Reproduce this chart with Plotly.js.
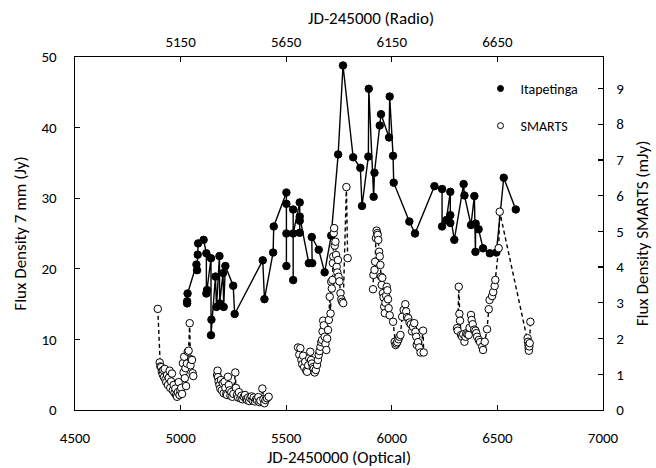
<!DOCTYPE html>
<html>
<head>
<meta charset="utf-8">
<script src="https://cdn.plot.ly/plotly-3.0.1.min.js"></script>
<style>html,body{margin:0;padding:0;background:#fff;}#chart{width:656px;height:468px;}</style>
</head>
<body>
<div id="chart"></div>
<script>
// Itapetinga 7 mm radio data (JD-2450000 radio axis, Jy)
const itapJD = [5181,5181,5183,5225,5228,5231,5233,5259,5272,5272,5275,5294,5296,5294,5315,5320,5334,5335,5351,5354,5362,5399,5406,5539,5547,5588,5591,5651,5651,5651,5651,5683,5683,5683,5714,5714,5714,5714,5757,5773,5771,5804,5832,5863,5896,5919,5967,6001,6009,6039,6041,6064,6068,6093,6099,6137,6140,6156,6159,6233,6260,6352,6388,6388,6408,6427,6427,6427,6446,6490,6494,6525,6541,6546,6547,6561,6582,6614,6645,6680,6737];
const itapFlux = [15.1,15.4,16.5,20.6,19.8,22.0,23.6,24.1,22.2,16.5,17.0,21.5,12.8,10.6,18.9,14.6,21.8,15.1,19.4,14.6,20.4,17.6,13.6,21.2,15.7,22.3,26.0,30.8,20.4,25.0,29.2,28.4,18.4,25.0,29.4,25.1,26.8,27.4,20.8,20.8,24.5,22.7,19.5,24.7,36.2,48.8,35.8,34.3,28.9,35.9,45.5,30.2,33.6,40.3,41.9,38.6,44.4,36.0,32.2,26.7,25.0,31.7,31.3,26.0,26.9,30.9,26.5,27.6,24.1,32.0,30.4,26.2,30.3,22.4,26.4,25.6,22.9,22.2,22.3,32.9,28.4];

// SMARTS optical data (JD-2450000 optical axis, mJy); null = seasonal gap
const smJD = [
4892,4901,4904,4908,4911,4915,4918,4921,4925,4928,4932,4936,4940,4944,4948,4951,4955,4959,4963,4967,4971,4975,4979,4983,4987,4991,4995,4999,5003,5007,5011,5014,5017,5020,5023,5026,5030,5034,5038,5043,5047,5050,5054,5057,5060,
null,
5173,5175,5177,5180,5184,5188,5191,5195,5200,5204,5208,5212,5216,5220,5224,5228,5232,5236,5240,5245,5250,5259,5262,5267,5272,5276,5283,5288,5293,5299,5305,5310,5315,5320,5325,5330,5336,5341,5346,5352,5357,5362,5368,5373,5378,5387,5392,5397,5402,5409,5417,
null,
5556,5562,5567,5572,5576,5580,5585,5590,5595,5599,5604,5609,5614,5618,5622,5626,5630,5635,5640,5646,5650,5654,5658,5662,5666,5670,5672,5675,5678,5682,5686,5690,5694,5698,5702,5706,5710,5713,5716,5719,5721,5723,5725,5727,5730,5733,5736,5739,5742,5745,5748,5752,5757,5761,5765,5770,5785,5791,
null,
5911,5913,5918,5921,5925,5928,5931,5933,5936,5940,5943,5946,5949,5952,5955,5958,5961,5964,5967,5970,5973,5976,5979,5982,5985,5990,6006,6014,6018,6022,6026,6032,6036,6041,6049,6056,6064,6068,6072,6078,6084,6090,6096,6100,6106,6112,6116,6118,6124,6130,6136,6148,6151,
null,
6309,6312,6317,6320,6323,6328,6333,6338,6344,6349,6353,6358,6364,6368,6375,6378,6383,6390,6396,6400,6404,6412,6418,6428,6432,6440,6451,6459,6463,6475,6480,6487,6490,6506,6511,
6643,6645,6647,6648,6649,6651,6653,6656];
const smFlux = [
2.83,1.33,1.22,1.20,1.08,1.00,1.12,0.92,1.15,0.85,0.78,0.98,0.70,0.90,1.10,0.62,0.80,1.02,0.55,0.70,0.48,0.60,0.42,0.37,0.50,0.78,0.42,0.55,0.62,0.45,1.31,1.05,1.49,0.89,1.17,0.67,1.30,1.63,1.66,2.43,1.25,1.42,1.40,1.03,0.95,
null,
0.98,1.10,0.92,0.80,0.70,0.60,0.84,0.55,0.75,0.47,0.79,0.62,0.45,0.42,0.93,0.70,0.55,0.40,0.50,0.37,0.45,1.05,0.62,0.42,0.35,0.50,0.33,0.40,0.30,0.37,0.42,0.30,0.28,0.35,0.25,0.33,0.38,0.27,0.35,0.24,0.30,0.28,0.36,0.22,0.26,0.60,0.30,0.19,0.28,0.33,0.37,
null,
1.75,1.55,1.73,1.40,1.28,1.52,1.20,1.35,1.10,1.07,1.25,1.45,1.63,1.40,1.30,1.20,1.15,1.05,1.12,1.26,1.40,1.54,1.65,1.77,1.90,1.96,2.20,2.50,2.37,2.05,1.85,1.68,2.00,2.24,2.52,3.17,2.70,3.59,3.40,3.64,4.11,4.30,4.95,5.09,4.60,4.71,4.34,4.01,3.85,4.20,3.73,3.60,3.27,3.10,3.03,2.99,6.24,4.25,
null,
3.38,3.78,3.92,4.15,4.81,5.02,4.95,4.90,4.76,4.43,4.30,4.06,3.73,3.50,3.70,3.27,3.15,2.89,2.71,3.00,3.20,3.45,3.35,3.10,2.85,2.65,2.47,1.91,1.82,1.86,1.90,1.98,2.05,2.10,2.61,2.80,2.96,2.76,2.60,2.57,2.45,2.40,2.20,2.33,2.43,2.19,2.05,1.82,1.90,1.75,1.61,2.22,1.61,
null,
2.29,2.22,3.45,2.69,2.50,2.10,2.05,2.12,1.91,2.05,2.15,2.12,2.10,2.30,2.66,2.52,2.40,2.25,2.22,2.15,2.05,1.96,1.90,1.77,1.68,1.91,2.26,2.82,3.08,3.19,3.30,3.47,3.64,4.53,5.55,
2.01,1.91,1.82,1.73,1.66,1.78,1.87,2.47];

const radioTicks = [5150,5650,6150,6650];
const seriesNames = ['Itapetinga','SMARTS'];

const FONT = 'Carlito, Calibri, Lato, sans-serif';
const tickFont = {family: FONT, size: 15, color: '#000'};
const titleFont = {family: FONT, size: 17, color: '#000'};

const traces = [
  {x: itapJD, y: itapFlux, xaxis: 'x', yaxis: 'y', type: 'scatter', mode: 'lines+markers',
   name: seriesNames[0], showlegend: false,
   line: {color: '#000', width: 1.4},
   marker: {symbol: 'circle', size: 7.5, color: '#000', line: {color: '#000', width: 1}}},
  {x: smJD, y: smFlux, xaxis: 'x2', yaxis: 'y2', type: 'scatter', mode: 'lines+markers',
   name: seriesNames[1], showlegend: false, connectgaps: false,
   line: {color: '#000', width: 1.4, dash: '4px,3px'},
   marker: {symbol: 'circle', size: 7.5, color: '#fff', line: {color: '#000', width: 1}}},
  {x: [null], y: [null], xaxis: 'x', yaxis: 'y', type: 'scatter', mode: 'markers',
   name: seriesNames[0], legendgroup: 'a',
   marker: {symbol: 'circle', size: 6, color: '#000', line: {color: '#000', width: 1}}},
  {x: [null], y: [null], xaxis: 'x2', yaxis: 'y2', type: 'scatter', mode: 'markers',
   name: seriesNames[1], legendgroup: 'b',
   marker: {symbol: 'circle', size: 6, color: '#fff', line: {color: '#000', width: 1}}}
];

const axCommon = {showline: true, linecolor: '#000', linewidth: 1.3, ticks: 'inside', ticklen: 5,
  tickcolor: '#000', tickwidth: 1.3, showgrid: false, zeroline: false, tickfont: tickFont, fixedrange: true};

const layout = {
  width: 656, height: 468,
  margin: {l: 75, r: 53, t: 57, b: 58, pad: 0},
  paper_bgcolor: '#fff', plot_bgcolor: '#fff',
  showlegend: true,
  legend: {x: 0.768, y: 0.955, xanchor: 'left', yanchor: 'top', bgcolor: 'rgba(0,0,0,0)',
    font: {family: FONT, size: 14, color: '#000'}, tracegroupgap: 16, traceorder: 'grouped'},
  xaxis: Object.assign({}, axCommon, {side: 'top', anchor: 'y', range: [4650, 7150],
    tickmode: 'array', tickvals: radioTicks, ticktext: radioTicks.map(String), ticklabelstandoff: 3}),
  yaxis: Object.assign({}, axCommon, {side: 'left', anchor: 'x', range: [0, 50], dtick: 10, tick0: 0,
    ticklabelstandoff: 14,
    title: {text: 'Flux Density 7 mm (Jy)', font: titleFont, standoff: 10}}),
  xaxis2: Object.assign({}, axCommon, {side: 'bottom', anchor: 'y2', overlaying: 'x', range: [4500, 7000],
    dtick: 500, tick0: 4500, ticklabelstandoff: 14,
    title: {text: 'JD-2450000 (Optical)', font: titleFont, standoff: 4}}),
  yaxis2: Object.assign({}, axCommon, {side: 'right', anchor: 'x2', overlaying: 'y', range: [0, 9.88],
    dtick: 1, tick0: 0, ticklabelstandoff: 9,
    title: {text: 'Flux Density SMARTS (mJy)', font: titleFont, standoff: 12}}),
  annotations: [{text: 'JD-245000 (Radio)', xref: 'paper', yref: 'paper', x: 0.56, y: 1, yshift: 39,
    xanchor: 'center', yanchor: 'middle', showarrow: false, font: titleFont}]
};

Plotly.newPlot('chart', traces, layout, {displayModeBar: false, staticPlot: true});
</script>
</body>
</html>
